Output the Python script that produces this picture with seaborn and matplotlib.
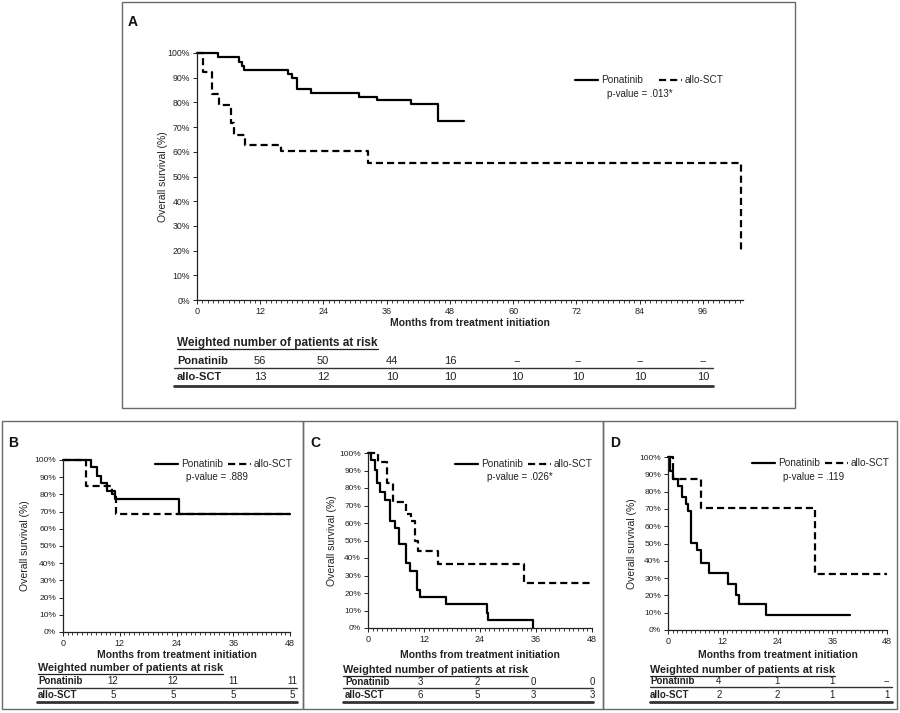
import numpy as np
import pandas as pd
import matplotlib
matplotlib.use("Agg")
import matplotlib.pyplot as plt
import seaborn as sns
from matplotlib.patches import Rectangle
from matplotlib.lines import Line2D
from matplotlib.ticker import FuncFormatter, MultipleLocator
from matplotlib.transforms import blended_transform_factory

sns.set_style("white")
plt.rcParams["font.family"] = ["Liberation Sans", "DejaVu Sans"]

# ---------------- data ----------------
groups = ["Ponatinib", "allo-SCT"]

A_pon_t = [0, 4.0, 8.0, 8.5, 9.0, 17.3, 18.0, 19.0, 21.6, 30.8, 34.2, 40.6, 45.7, 50.7]
A_pon_s = [1.0, 0.984, 0.964, 0.946, 0.933, 0.915, 0.898, 0.853, 0.84, 0.823, 0.808, 0.795, 0.724, 0.724]
A_allo_t = [0, 1.1, 2.8, 4.2, 6.5, 7.0, 9.2, 16.0, 32.4, 103.3]
A_allo_s = [1.0, 0.923, 0.836, 0.791, 0.715, 0.667, 0.629, 0.605, 0.556, 0.20]
A_ticks = [0, 12, 24, 36, 48, 60, 72, 84, 96]
A_risk_pon = ["56", "50", "44", "16", "--", "--", "--", "--"]
A_risk_allo = ["13", "12", "10", "10", "10", "10", "10", "10"]
A_p = "p-value = .013*"

B_pon_t = [0, 6.0, 7.1, 8.1, 9.3, 10.9, 24.5, 48]
B_pon_s = [1.0, 0.96, 0.907, 0.865, 0.817, 0.774, 0.688, 0.688]
B_allo_t = [0, 4.8, 10.3, 11.3, 48]
B_allo_s = [1.0, 0.85, 0.80, 0.688, 0.688]
B_risk_pon = ["12", "12", "11", "11"]
B_risk_allo = ["5", "5", "5", "5"]
B_p = "p-value = .889"

C_pon_t = [0, 0.7, 1.4, 1.9, 2.5, 3.6, 4.7, 5.7, 6.7, 8.2, 9.0, 10.5, 11.2, 16.8, 25.4, 25.8, 35.3]
C_pon_s = [1.0, 0.958, 0.905, 0.831, 0.778, 0.734, 0.613, 0.569, 0.478, 0.37, 0.323, 0.218, 0.18, 0.139, 0.085, 0.047, 0.0]
C_allo_t = [0, 2.1, 4.1, 5.4, 8.1, 9.3, 10.0, 10.7, 15.0, 33.5, 48]
C_allo_s = [1.0, 0.95, 0.83, 0.72, 0.65, 0.61, 0.50, 0.44, 0.365, 0.26, 0.26]
C_risk_pon = ["3", "2", "0", "0"]
C_risk_allo = ["6", "5", "3", "3"]
C_p = "p-value = .026*"

D_pon_t = [0, 0.4, 1.2, 2.2, 3.1, 3.9, 4.4, 5.1, 6.4, 7.3, 9.0, 13.2, 15.0, 15.6, 21.5, 39.9]
D_pon_s = [1.0, 0.92, 0.875, 0.83, 0.77, 0.73, 0.69, 0.505, 0.46, 0.39, 0.33, 0.265, 0.20, 0.15, 0.087, 0.087]
D_allo_t = [0, 1.2, 7.3, 32.2, 48]
D_allo_s = [1.0, 0.875, 0.705, 0.323, 0.323]
D_risk_pon = ["4", "1", "1", "--"]
D_risk_allo = ["2", "2", "1", "1"]
D_p = "p-value = .119"

small_ticks = [0, 12, 24, 36, 48]

# ---------------- layout (pixels) ----------------
W, H = 900, 713
fig = plt.figure(figsize=(W / 100, H / 100), dpi=100)


def fx(px):
    return px / W


def fy(py):
    return 1 - py / H


def frame(x0, y0, x1, y1):
    fig.patches.append(Rectangle((fx(x0), fy(y1)), fx(x1) - fx(x0), fy(y0) - fy(y1),
                                 transform=fig.transFigure, fill=False,
                                 ec="#6a6a6a", lw=1.0))


def hline(x0, x1, y, lw, color="#333333"):
    fig.add_artist(Line2D([fx(x0), fx(x1)], [fy(y), fy(y)], transform=fig.transFigure,
                          color=color, lw=lw))


def underlined(x, y, s, size):
    t = fig.text(fx(x), fy(y), s, fontsize=size, fontweight="bold", ha="left",
                 va="center", color="#222222")
    return t


underline_list = []

lw_curve = 1.6
dash = (3.2, 1.8)


def panel(letter, letter_xy, box, ax_px, xmax, ticks, pon_t, pon_s, allo_t, allo_s,
          leg_xy, p_xy, p_text, ylab_x, xlab_y, tick_fs, ytick_fs,
          title_xy, title_fs, row_x, row_ys, line_ys, line_x, col_x, risk_pon, risk_allo, val_fs):
    frame(*box)
    fig.text(fx(letter_xy[0]), fy(letter_xy[1]), letter, fontsize=10, fontweight="bold",
             ha="center", va="center", color="#111111")
    l, t, r, b = ax_px
    ax = fig.add_axes([fx(l), fy(b), fx(r) - fx(l), fy(t) - fy(b)])
    df = pd.concat([
        pd.DataFrame({"t": pon_t, "s": pon_s, "group": "Ponatinib"}),
        pd.DataFrame({"t": allo_t, "s": allo_s, "group": "allo-SCT"}),
    ], ignore_index=True)
    sns.lineplot(data=df, x="t", y="s", style="group", style_order=groups,
                 dashes={"Ponatinib": "", "allo-SCT": dash}, color="black",
                 drawstyle="steps-post", estimator=None, sort=False, legend=False,
                 lw=lw_curve, ax=ax, clip_on=False)
    ax.set_xlim(0, xmax)
    ax.set_ylim(0, 1)
    ax.set_xticks(ticks)
    ax.xaxis.set_minor_locator(MultipleLocator(1))
    ax.set_yticks(np.arange(0, 1.01, 0.1))
    ax.yaxis.set_major_formatter(FuncFormatter(lambda v, p: f"{v * 100:.0f}%"))
    for s in ["top", "right"]:
        ax.spines[s].set_visible(False)
    for s in ["left", "bottom"]:
        ax.spines[s].set_color("#222222")
        ax.spines[s].set_linewidth(0.9)
    ax.tick_params(axis="x", which="major", direction="out", length=3, width=0.7,
                   labelsize=tick_fs, pad=2, colors="#222222", bottom=True)
    ax.tick_params(axis="x", which="minor", direction="out", length=2.5, width=0.6,
                   colors="#222222", bottom=True)
    ax.tick_params(axis="y", which="major", direction="out", length=3, width=0.7,
                   labelsize=ytick_fs, pad=2, colors="#222222", left=True)
    ax.set_xlabel("")
    ax.set_ylabel("")
    # axis titles
    fig.text(fx(ylab_x), fy((t + b) / 2), "Overall survival (%)", rotation=90,
             fontsize=7.5, ha="center", va="center", color="#222222")
    fig.text(fx((l + r) / 2), fy(xlab_y), "Months from treatment initiation",
             fontsize=7.5, fontweight="bold", ha="center", va="center", color="#222222")
    # legend
    handles = [Line2D([], [], color="black", lw=lw_curve, ls="-"),
               Line2D([], [], color="black", lw=lw_curve, ls=(0, dash))]
    fig.legend(handles, groups, ncol=2, loc="center left",
               bbox_to_anchor=(fx(leg_xy[0]), fy(leg_xy[1])), bbox_transform=fig.transFigure,
               frameon=False, fontsize=7.2, handlelength=2.3, handletextpad=0.3,
               columnspacing=leg_xy[2], borderpad=0, borderaxespad=0)
    fig.text(fx(p_xy[0]), fy(p_xy[1]), p_text, fontsize=7, ha="center", va="center",
             color="#222222")
    # risk table
    tt = underlined(title_xy[0], title_xy[1], "Weighted number of patients at risk", title_fs)
    underline_list.append(tt)
    for name, ry, vals in zip(groups, row_ys, [risk_pon, risk_allo]):
        fig.text(fx(row_x), fy(ry), name.replace("allo-SCT", "allo-SCT"), fontsize=val_fs,
                 fontweight="bold", ha="left", va="center", color="#222222")
        for cx, v in zip(col_x, vals):
            fig.text(fx(cx), fy(ry), v, fontsize=val_fs, ha="center", va="center",
                     color="#222222")
    hline(line_x[0], line_x[1], line_ys[0], 1.0)
    hline(line_x[0], line_x[1], line_ys[1], 2.0)
    return ax


# Panel A
panel("A", (133, 22), (122, 2, 795, 408), (197, 53, 743, 300), 103.6, A_ticks,
      A_pon_t, A_pon_s, A_allo_t, A_allo_s,
      (575, 80, 1.6), (640, 94), A_p, 163, 323, 6.5, 6.3,
      (177, 343), 8.5, 177, (361, 377), (368, 386), (174, 713),
      [260, 323, 392, 450, 517, 578, 640, 703], A_risk_pon, A_risk_allo, 8)

# Panel B
panel("B", (13, 443), (2, 421, 303, 709), (63, 460, 290, 632), 48, small_ticks,
      B_pon_t, B_pon_s, B_allo_t, B_allo_s,
      (155, 464, 0.5), (217, 477), B_p, 25, 655, 6.5, 6.0,
      (38, 668), 7.8, 38, (681, 695), (688, 702), (37, 297),
      [113, 173, 233, 292], B_risk_pon, B_risk_allo, 7)

# Panel C
panel("C", (315, 443), (303, 421, 603, 709), (368, 453, 592, 628), 48, small_ticks,
      C_pon_t, C_pon_s, C_allo_t, C_allo_s,
      (455, 464, 0.5), (520, 477), C_p, 332, 655, 6.5, 6.0,
      (343, 670), 7.8, 345, (682, 695), (688, 702), (343, 593),
      [420, 477, 533, 592], C_risk_pon, C_risk_allo, 7)

# Panel D
panel("D", (615, 443), (603, 421, 897, 709), (668, 457, 887, 630), 48, small_ticks,
      D_pon_t, D_pon_s, D_allo_t, D_allo_s,
      (752, 463, 0.5), (814, 477), D_p, 632, 655, 6.5, 6.0,
      (650, 670), 7.8, 650, (681, 695), (687, 702), (650, 892),
      [719, 777, 832, 887], D_risk_pon, D_risk_allo, 7)

# underline table titles
fig.canvas.draw()
rend = fig.canvas.get_renderer()
for t in underline_list:
    bb = t.get_window_extent(rend)
    y = bb.y0 - 0.5
    fig.add_artist(Line2D([bb.x0 / W, bb.x1 / W], [y / H, y / H], transform=fig.transFigure,
                          color="#222222", lw=0.9))

fig.savefig("out.png", dpi=100, facecolor="white")
